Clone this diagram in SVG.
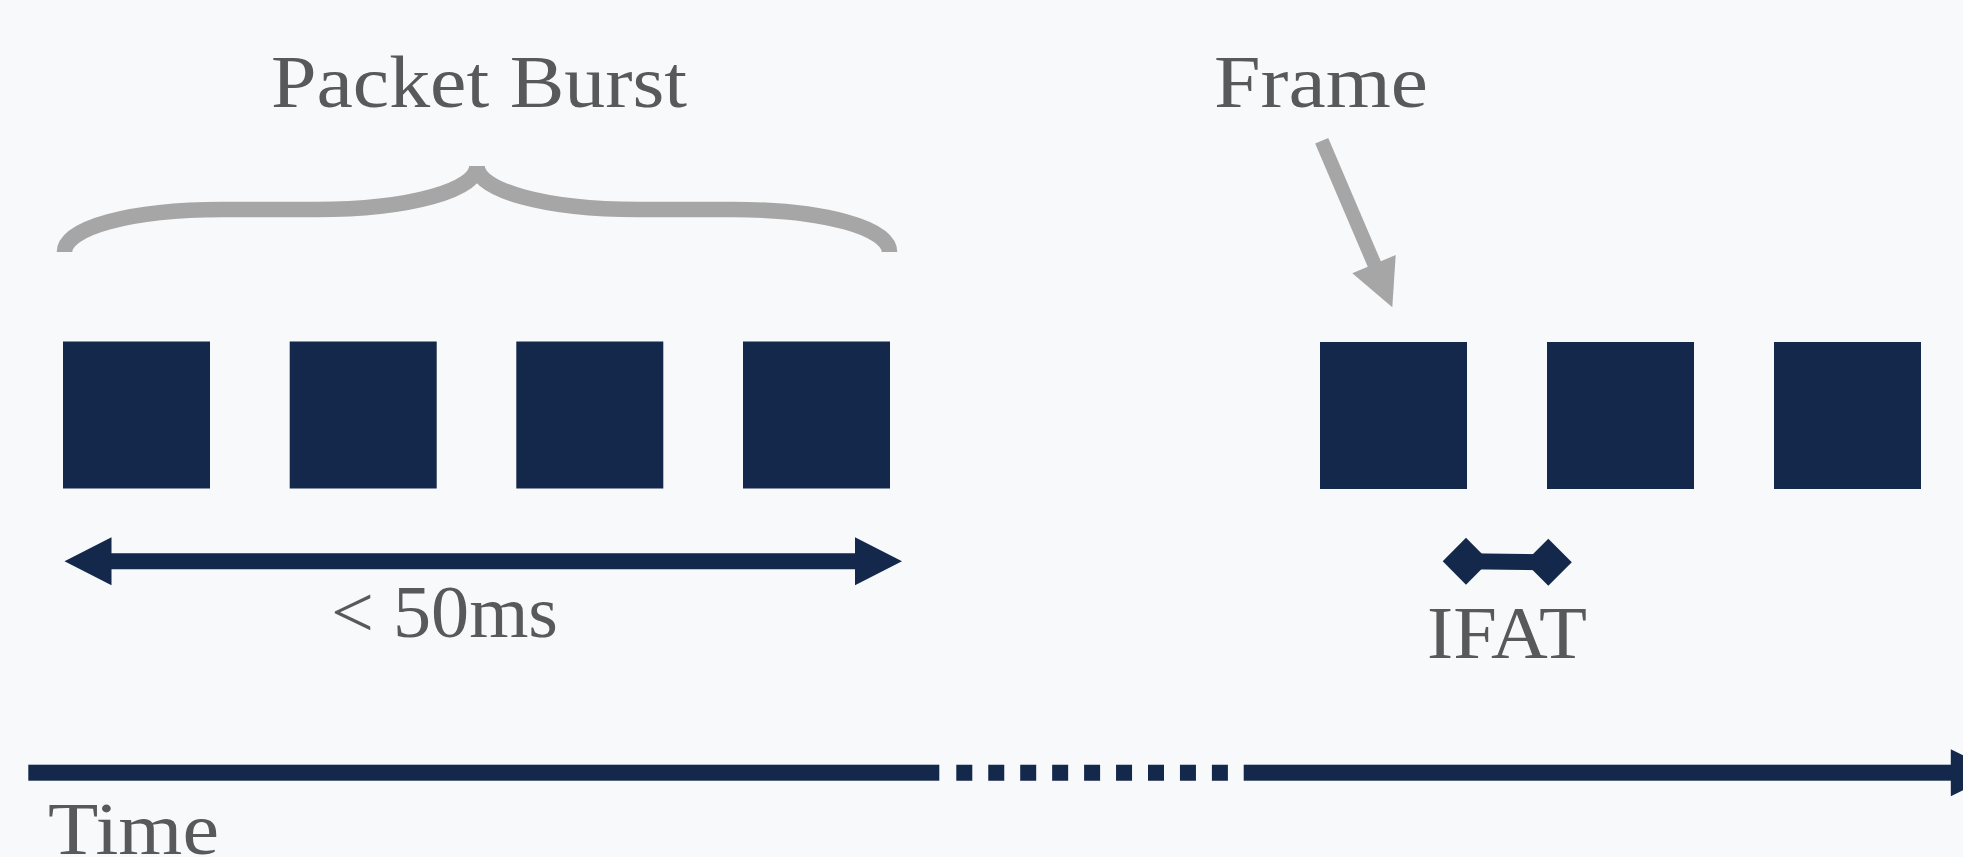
<svg xmlns="http://www.w3.org/2000/svg" width="1963" height="857" viewBox="0 0 1963 857">
  <style>
    .pkt { fill: #13284b; }
    .lbl { font-family: "Liberation Serif", "Times New Roman", serif; font-size: 74px; fill: #58595b; }
    .gray { fill: #a6a6a6; }
    .navy { fill: #13284b; }
  </style>
  <rect x="0" y="0" width="1963" height="857" fill="#f8f9fb"/>

  <g id="burst-packets">
    <g id="packet-1"><rect class="pkt" x="63" y="341.5" width="147" height="147"/></g>
    <g id="packet-2"><rect class="pkt" x="289.7" y="341.5" width="147" height="147"/></g>
    <g id="packet-3"><rect class="pkt" x="516.3" y="341.5" width="147" height="147"/></g>
    <g id="packet-4"><rect class="pkt" x="743" y="341.5" width="147" height="147"/></g>
  </g>
  <g id="frame-packets">
    <g id="packet-5"><rect class="pkt" x="1320" y="342" width="147" height="147"/></g>
    <g id="packet-6"><rect class="pkt" x="1547" y="342" width="147" height="147"/></g>
    <g id="packet-7"><rect class="pkt" x="1774" y="342" width="147" height="147"/></g>
  </g>

  <g id="labels">
    <g id="label-packet-burst"><text class="lbl" x="271" y="106.7" textLength="416" lengthAdjust="spacingAndGlyphs">Packet Burst</text></g>
    <g id="label-frame"><text class="lbl" x="1214" y="107.3" textLength="214" lengthAdjust="spacingAndGlyphs">Frame</text></g>
    <g id="label-50ms"><text class="lbl" x="331" y="636.7" textLength="227" lengthAdjust="spacingAndGlyphs">&lt; 50ms</text></g>
    <g id="label-ifat"><text class="lbl" x="1427" y="658.3" textLength="160" lengthAdjust="spacingAndGlyphs">IFAT</text></g>
    <g id="label-time"><text class="lbl" x="48" y="854" textLength="171" lengthAdjust="spacingAndGlyphs">Time</text></g>
  </g>

  <g id="connectors">
    <g id="brace">
      <path d="M 64.5 252 C 64.5 228 130 209.5 222 209.5 L 316 209.5 C 410 209.5 477 190 477 166 C 477 190 544 209.5 638 209.5 L 732 209.5 C 824 209.5 889.5 228 889.5 252" fill="none" stroke="#a6a6a6" stroke-width="15.6"/>
    </g>
    <g id="frame-arrow">
      <line x1="1321.7" y1="140.8" x2="1376" y2="268" stroke="#a6a6a6" stroke-width="14.2"/>
      <polygon class="gray" points="1352.3,273.3 1395.7,255 1392.3,307.3"/>
    </g>
    <g id="burst-duration-arrow">
      <polygon class="navy" points="64.5,561.3 111.5,537.3 111.5,553.3 855,553.3 855,537.3 902,561.3 855,585.3 855,569.3 111.5,569.3 111.5,585.3"/>
    </g>
    <g id="ifat-arrow">
      <line x1="1466" y1="561.3" x2="1548.3" y2="562.3" stroke="#13284b" stroke-width="16"/>
      <polygon class="navy" points="1442.7,561.3 1466,537.8 1489.3,561.3 1466,584.8"/>
      <polygon class="navy" points="1524.8,562.3 1548.3,538.8 1571.8,562.3 1548.3,585.8"/>
    </g>
    <g id="time-axis">
      <rect class="navy" x="28.3" y="764.7" width="911" height="16"/>
      <line x1="956.3" y1="772.7" x2="1228.3" y2="772.7" stroke="#13284b" stroke-width="16" stroke-dasharray="16 15.95"/>
      <rect class="navy" x="1243.7" y="764.7" width="708" height="16"/>
      <polygon class="navy" points="1950.8,749.2 1998,772.7 1950.8,796.2"/>
    </g>
  </g>
</svg>
